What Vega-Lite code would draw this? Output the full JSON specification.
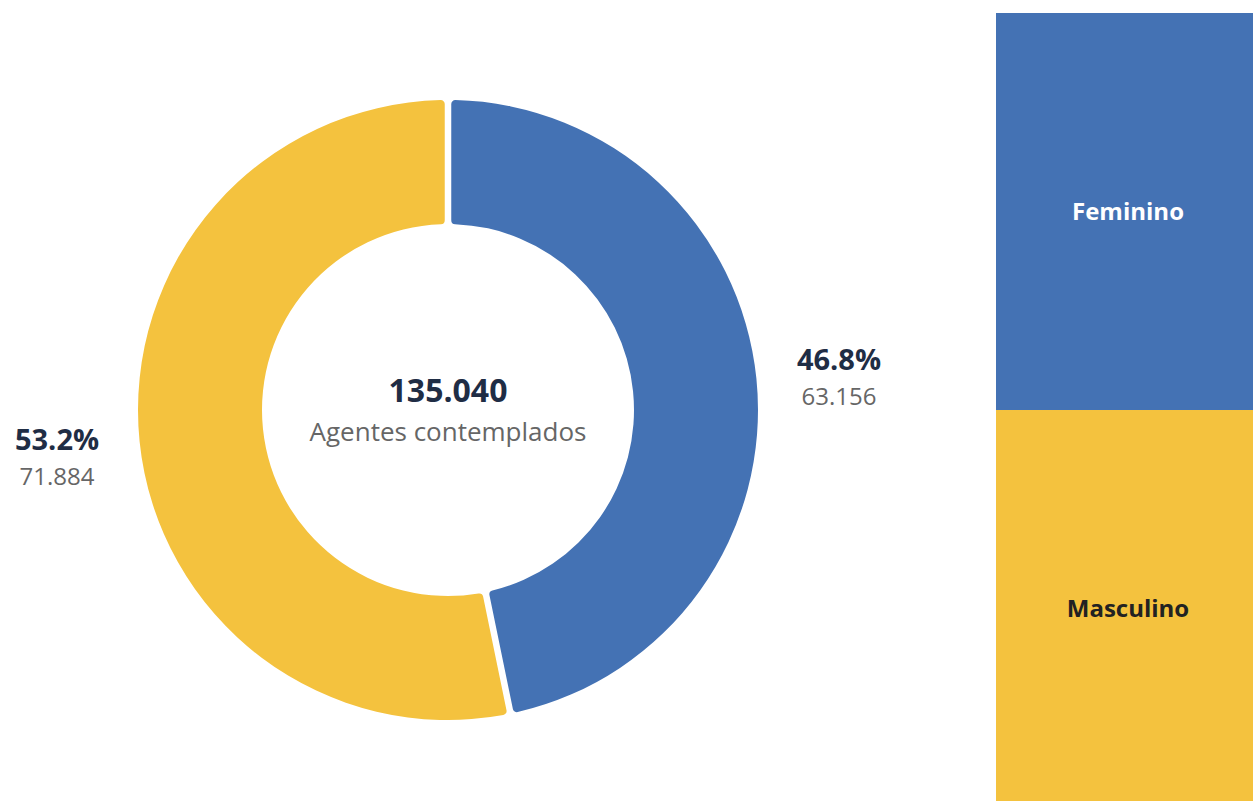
{
  "$schema": "https://vega.github.io/schema/vega-lite/v6.json",
  "padding": {"top": 13, "left": 0, "right": 0, "bottom": 0},
  "spacing": 100,
  "background": "white",
  "config": {"view": {"stroke": null}, "font": "Open Sans"},
  "datasets": {
    "genero": [
      {"sexo": "Feminino", "agentes": 63156, "pct_label": "46.8%", "agentes_label": "63.156"},
      {"sexo": "Masculino", "agentes": 71884, "pct_label": "53.2%", "agentes_label": "71.884"}
    ],
    "total": [{"total_label": "135.040", "descricao": "Agentes contemplados"}]
  },
  "hconcat": [
    {
      "width": 896,
      "height": 782,
      "layer": [
        {
          "data": {"name": "genero"},
          "mark": {"type": "arc", "outerRadius": 310, "innerRadius": 186, "cornerRadius": 4, "padAngle": 0.018},
          "encoding": {
            "theta": {"field": "agentes", "type": "quantitative", "stack": true},
            "color": {"field": "sexo", "type": "nominal", "scale": {"domain": ["Feminino", "Masculino"], "range": ["#4472b4", "#f4c23e"]}, "legend": null},
            "order": {"field": "sexo", "type": "nominal"}
          }
        },
        {
          "data": {"name": "genero"},
          "mark": {"type": "text", "radius": 393, "fontSize": 29, "fontWeight": "bold", "color": "#1f2d45", "align": "center", "baseline": "alphabetic", "dy": 0},
          "encoding": {
            "theta": {"field": "agentes", "type": "quantitative", "stack": true},
            "order": {"field": "sexo", "type": "nominal"},
            "text": {"field": "pct_label"}
          }
        },
        {
          "data": {"name": "genero"},
          "mark": {"type": "text", "radius": 393, "fontSize": 24, "color": "#666666", "align": "center", "baseline": "alphabetic", "dy": 35},
          "encoding": {
            "theta": {"field": "agentes", "type": "quantitative", "stack": true},
            "order": {"field": "sexo", "type": "nominal"},
            "text": {"field": "agentes_label"}
          }
        },
        {
          "data": {"name": "total"},
          "mark": {"type": "text", "fontSize": 32, "fontWeight": "bold", "color": "#1f2d45", "align": "center", "baseline": "alphabetic", "dy": -8},
          "encoding": {"text": {"field": "total_label"}}
        },
        {
          "data": {"name": "total"},
          "mark": {"type": "text", "fontSize": 26, "color": "#666666", "align": "center", "baseline": "alphabetic", "dy": 31},
          "encoding": {"text": {"field": "descricao"}}
        }
      ]
    },
    {
      "width": 257,
      "height": 782,
      "data": {"name": "genero"},
      "transform": [
        {"aggregate": [{"op": "count", "as": "n"}], "groupby": ["sexo"]},
        {"stack": "n", "groupby": [], "sort": [{"field": "sexo", "order": "ascending"}], "as": ["y0", "y1"]}
      ],
      "layer": [
        {
          "mark": {"type": "rect"},
          "encoding": {
            "x": {"value": 0},
            "x2": {"value": "width"},
            "y": {"field": "y0", "type": "quantitative", "scale": {"domain": [0.0151, 1.9849], "reverse": true, "nice": false, "zero": false}, "axis": null},
            "y2": {"field": "y1"},
            "color": {"field": "sexo", "type": "nominal", "scale": {"domain": ["Feminino", "Masculino"], "range": ["#4472b4", "#f4c23e"]}, "legend": null}
          }
        },
        {
          "mark": {"type": "text", "fontSize": 24, "fontWeight": "bold", "align": "center", "baseline": "alphabetic", "dy": -190},
          "encoding": {
            "x": {"value": 132},
            "y": {"field": "y1", "type": "quantitative"},
            "text": {"field": "sexo", "type": "nominal"},
            "color": {"field": "sexo", "type": "nominal", "scale": {"domain": ["Feminino", "Masculino"], "range": ["#ffffff", "#222222"]}, "legend": null}
          }
        }
      ],
      "resolve": {"scale": {"color": "independent"}}
    }
  ],
  "resolve": {"scale": {"color": "independent"}}
}
